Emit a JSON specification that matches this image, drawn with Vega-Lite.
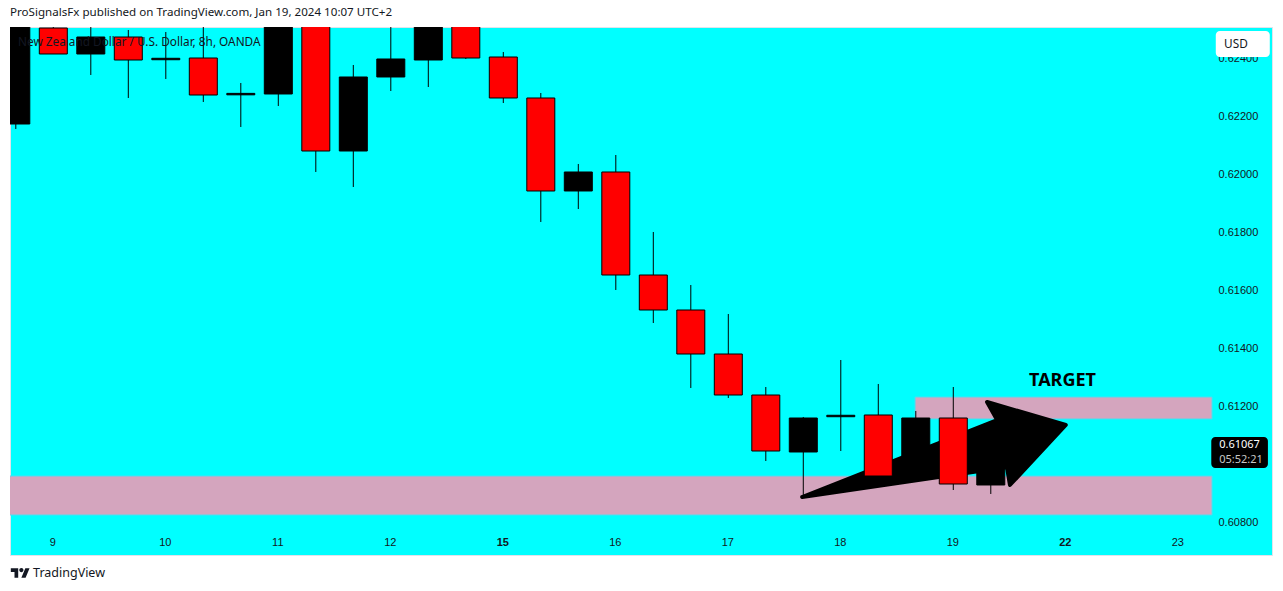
{
  "$schema": "https://vega.github.io/schema/vega-lite/v6.json",
  "width": 1262,
  "height": 528,
  "autosize": "none",
  "padding": {"left": 10, "top": 27, "right": 11, "bottom": 36},
  "background": "#ffffff",
  "view": {"fill": "#00ffff", "stroke": "#e0e3eb"},
  "title": {
    "text": "ProSignalsFx published on TradingView.com, Jan 19, 2024 10:07 UTC+2",
    "anchor": "start",
    "frame": "group",
    "font": "Noto Sans",
    "fontSize": 11.6,
    "fontWeight": "normal",
    "color": "#131722",
    "offset": 8
  },
  "datasets": {
    "candles": [
      {"bar": 0, "open": 0.621724, "close": 0.62598, "high": 0.62621, "low": 0.621552, "dir": "up"},
      {"bar": 1, "open": 0.625034, "close": 0.624138, "high": 0.62521, "low": 0.624138, "dir": "down"},
      {"bar": 2, "open": 0.624138, "close": 0.624724, "high": 0.62531, "low": 0.623414, "dir": "up"},
      {"bar": 3, "open": 0.624724, "close": 0.623931, "high": 0.624966, "low": 0.622621, "dir": "down"},
      {"bar": 4, "open": 0.62394, "close": 0.62399, "high": 0.624897, "low": 0.623276, "dir": "up"},
      {"bar": 5, "open": 0.624, "close": 0.622724, "high": 0.62531, "low": 0.622483, "dir": "down"},
      {"bar": 6, "open": 0.62273, "close": 0.62278, "high": 0.623138, "low": 0.621621, "dir": "up"},
      {"bar": 7, "open": 0.622759, "close": 0.6256, "high": 0.62598, "low": 0.622345, "dir": "up"},
      {"bar": 8, "open": 0.6256, "close": 0.620793, "high": 0.62598, "low": 0.620069, "dir": "down"},
      {"bar": 9, "open": 0.620793, "close": 0.623345, "high": 0.623759, "low": 0.619552, "dir": "up"},
      {"bar": 10, "open": 0.623345, "close": 0.623966, "high": 0.6253, "low": 0.622862, "dir": "up"},
      {"bar": 11, "open": 0.623931, "close": 0.6255, "high": 0.6258, "low": 0.623, "dir": "up"},
      {"bar": 12, "open": 0.6255, "close": 0.624, "high": 0.6258, "low": 0.623966, "dir": "down"},
      {"bar": 13, "open": 0.624034, "close": 0.622621, "high": 0.624207, "low": 0.622448, "dir": "down"},
      {"bar": 14, "open": 0.622621, "close": 0.619414, "high": 0.622793, "low": 0.618345, "dir": "down"},
      {"bar": 15, "open": 0.619414, "close": 0.620069, "high": 0.620345, "low": 0.618793, "dir": "up"},
      {"bar": 16, "open": 0.620069, "close": 0.616517, "high": 0.620655, "low": 0.616, "dir": "down"},
      {"bar": 17, "open": 0.616517, "close": 0.61531, "high": 0.618, "low": 0.614862, "dir": "down"},
      {"bar": 18, "open": 0.61531, "close": 0.613793, "high": 0.616172, "low": 0.612621, "dir": "down"},
      {"bar": 19, "open": 0.613793, "close": 0.612379, "high": 0.615172, "low": 0.612276, "dir": "down"},
      {"bar": 20, "open": 0.612379, "close": 0.610448, "high": 0.612655, "low": 0.610103, "dir": "down"},
      {"bar": 21, "open": 0.610414, "close": 0.611586, "high": 0.611621, "low": 0.608862, "dir": "up"},
      {"bar": 22, "open": 0.61163, "close": 0.61168, "high": 0.613586, "low": 0.610448, "dir": "up"},
      {"bar": 23, "open": 0.61169, "close": 0.609586, "high": 0.612759, "low": 0.609586, "dir": "down"},
      {"bar": 24, "open": 0.610069, "close": 0.611586, "high": 0.611828, "low": 0.610069, "dir": "up"},
      {"bar": 25, "open": 0.611586, "close": 0.60931, "high": 0.612655, "low": 0.609103, "dir": "down"},
      {"bar": 26, "open": 0.609276, "close": 0.61067, "high": 0.61085, "low": 0.608966, "dir": "up"}
    ],
    "zones": [
      {"start": 23.98, "end": 31.9, "top": 0.61231, "bottom": 0.611552},
      {"start": -1, "end": 31.9, "top": 0.609586, "bottom": 0.608241}
    ],
    "arrow": [
      {"seq": 1, "bar": 20.97, "price": 0.608862},
      {"seq": 2, "bar": 26.17, "price": 0.611517},
      {"seq": 3, "bar": 25.9, "price": 0.612138},
      {"seq": 4, "bar": 28.0, "price": 0.611345},
      {"seq": 5, "bar": 26.51, "price": 0.609276},
      {"seq": 6, "bar": 26.43, "price": 0.609897},
      {"seq": 7, "bar": 20.97, "price": 0.608862}
    ],
    "boxes": [
      {"start": 32.0, "end": 33.44, "top": 0.624931, "bottom": 0.624034, "kind": "unit"},
      {"start": 31.88, "end": 33.39, "top": 0.610931, "bottom": 0.609862, "kind": "price"}
    ],
    "notes": [
      {"bar": 0.06, "price": 0.624552, "label": "New Zealand Dollar / U.S. Dollar, 8h, OANDA", "kind": "legend"},
      {"bar": 0.46, "price": 0.606241, "label": "TradingView", "kind": "footer"},
      {"bar": 32.22, "price": 0.62448, "label": "USD", "kind": "unit"},
      {"bar": 32.09, "price": 0.610655, "label": "0.61067", "kind": "last"},
      {"bar": 32.09, "price": 0.610138, "label": "05:52:21", "kind": "timer"}
    ],
    "target": [{"bar": 27.02, "price": 0.612862, "label": "TARGET"}],
    "logo": [{"bar": 0.12, "price": 0.606241}]
  },
  "layer": [
    {
      "data": {"name": "zones"},
      "mark": {"type": "rect", "fill": "#d4a5be", "stroke": "#4fdcf0", "strokeWidth": 1, "clip": true},
      "encoding": {
        "x": {
          "field": "start",
          "type": "quantitative",
          "scale": {"domain": [-0.155, 33.499], "nice": false, "zero": false, "padding": 0},
          "axis": {
            "title": null,
            "values": [1, 4, 7, 10, 13, 16, 19, 22, 25, 28, 31],
            "labelExpr": "['9','10','11','12','15','16','17','18','19','22','23'][(datum.value-1)/3]",
            "orient": "bottom",
            "offset": -19,
            "grid": false,
            "domain": false,
            "ticks": false,
            "labelPadding": 0,
            "labelOffset": -1,
            "labelAngle": 0,
            "labelFont": "Liberation Sans",
            "labelFontSize": 11,
            "labelColor": "#131722",
            "labelOverlap": false,
            "labelFlush": false,
            "labelBound": false,
            "labelFontWeight": {"condition": {"test": "datum.value == 13 || datum.value == 28", "value": "bold"}, "value": "normal"}
          }
        },
        "x2": {"field": "end"},
        "y": {
          "field": "top",
          "type": "quantitative",
          "scale": {"domain": [0.606862, 0.625069], "nice": false, "zero": false, "padding": 0},
          "axis": {
            "title": null,
            "values": [0.608, 0.61, 0.612, 0.614, 0.616, 0.618, 0.62, 0.622, 0.624],
            "format": ".5f",
            "orient": "right",
            "offset": -54,
            "grid": false,
            "domain": false,
            "ticks": false,
            "labelPadding": 0,
            "labelOffset": 0.5,
            "labelFont": "Liberation Sans",
            "labelFontSize": 11,
            "labelColor": "#131722",
            "labelOverlap": false,
            "labelFlush": false,
            "labelBound": false
          }
        },
        "y2": {"field": "bottom"}
      }
    },
    {
      "data": {"name": "arrow"},
      "mark": {"type": "line", "fill": "#000000", "stroke": "#000000", "strokeWidth": 4, "strokeJoin": "round", "strokeCap": "round"},
      "encoding": {
        "x": {"field": "bar", "type": "quantitative"},
        "y": {"field": "price", "type": "quantitative"},
        "order": {"field": "seq", "type": "quantitative"}
      }
    },
    {
      "data": {"name": "candles"},
      "mark": {"type": "rule", "color": "#000000", "strokeWidth": 1, "clip": true},
      "encoding": {
        "x": {"field": "bar", "type": "quantitative"},
        "y": {"field": "high", "type": "quantitative"},
        "y2": {"field": "low"}
      }
    },
    {
      "data": {"name": "candles"},
      "mark": {"type": "bar", "size": 28, "stroke": "#000000", "strokeWidth": 1, "clip": true},
      "encoding": {
        "x": {"field": "bar", "type": "quantitative"},
        "y": {"field": "open", "type": "quantitative"},
        "y2": {"field": "close"},
        "fill": {"condition": {"test": "datum.dir == 'down'", "value": "#ff0000"}, "value": "#000000"}
      }
    },
    {
      "data": {"name": "boxes"},
      "mark": {"type": "rect", "cornerRadius": 4},
      "encoding": {
        "x": {"field": "start", "type": "quantitative"},
        "x2": {"field": "end"},
        "y": {"field": "top", "type": "quantitative"},
        "y2": {"field": "bottom"},
        "fill": {"condition": {"test": "datum.kind == 'unit'", "value": "#ffffff"}, "value": "#000000"}
      }
    },
    {
      "data": {"name": "logo"},
      "mark": {
        "type": "point",
        "filled": true,
        "opacity": 1,
        "color": "#131722",
        "size": 361,
        "shape": "M-0.222 0.5H-0.611V-0.111H-1V-0.5H-0.222ZM0.556 0.5H0.111L0.528 -0.5H0.972ZM-0.111 -0.306a0.222 0.222 0 1 0 0.444 0a0.222 0.222 0 1 0 -0.444 0Z"
      },
      "encoding": {
        "x": {"field": "bar", "type": "quantitative"},
        "y": {"field": "price", "type": "quantitative"}
      }
    },
    {
      "data": {"name": "notes"},
      "mark": {"type": "text", "align": "left", "baseline": "middle", "font": "Noto Sans", "fontSize": 11.8},
      "encoding": {
        "x": {"field": "bar", "type": "quantitative"},
        "y": {"field": "price", "type": "quantitative"},
        "text": {"field": "label", "type": "nominal"},
        "size": {"condition": [
          {"test": "datum.kind == 'footer'", "value": 12.5},
          {"test": "datum.kind == 'last' || datum.kind == 'timer'", "value": 11}
        ], "value": 11.8},
        "color": {"condition": [
          {"test": "datum.kind == 'last'", "value": "#ffffff"},
          {"test": "datum.kind == 'timer'", "value": "#c8c8c8"}
        ], "value": "#131722"}
      }
    },
    {
      "data": {"name": "target"},
      "mark": {"type": "text", "align": "left", "baseline": "middle", "font": "Noto Sans", "fontSize": 18, "fontWeight": "bold", "color": "#000000"},
      "encoding": {
        "x": {"field": "bar", "type": "quantitative"},
        "y": {"field": "price", "type": "quantitative"},
        "text": {"field": "label", "type": "nominal"}
      }
    }
  ]
}
